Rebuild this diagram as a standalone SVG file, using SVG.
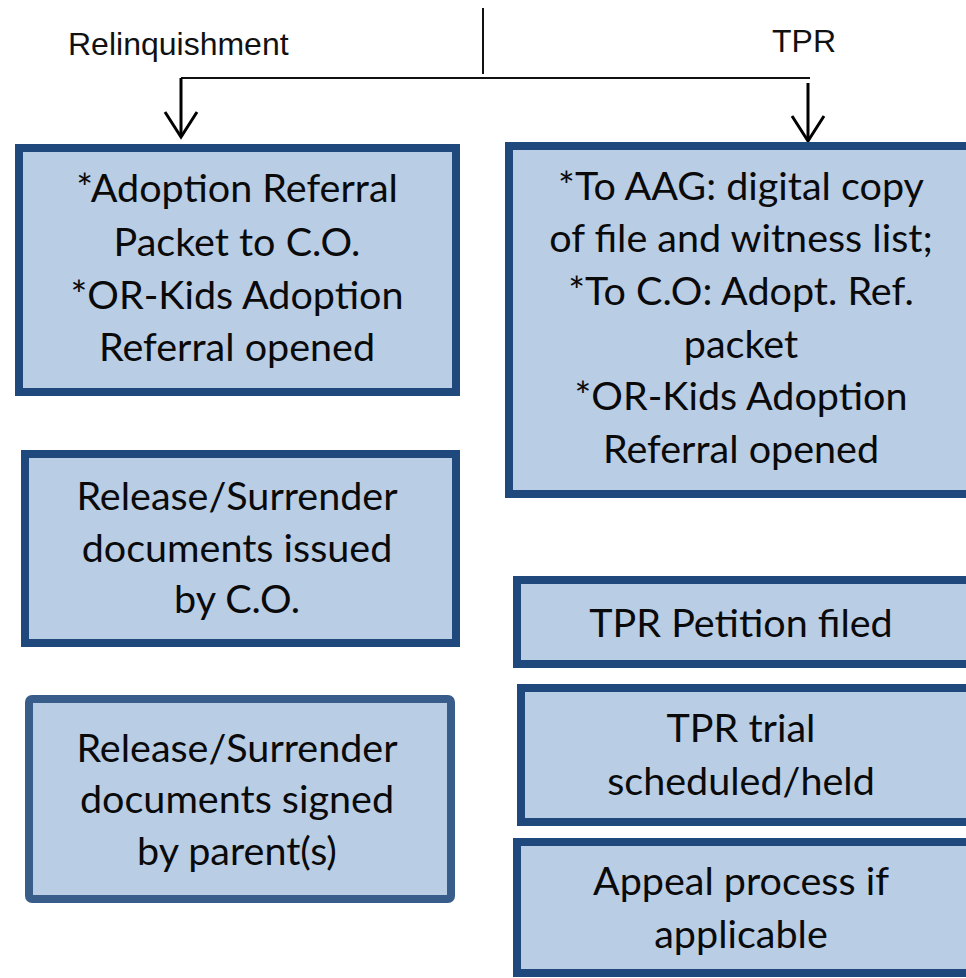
<svg xmlns="http://www.w3.org/2000/svg" width="966" height="978" viewBox="0 0 966 978">
<style>
.box{fill:#b9cde5;stroke:#1f497d;stroke-width:8}
.box2{fill:#b9cde5;stroke:#385d8a;stroke-width:8}
.t{font-family:Lato,"Open Sans","Liberation Sans",sans-serif;font-size:39.5px;fill:#0a0a0a;text-anchor:middle}
.h{font-family:"Liberation Sans",Arial,sans-serif;font-size:32px;fill:#111}
.ln{stroke:#111;stroke-width:2;fill:none}
.ar{stroke:#000;stroke-width:3;fill:none}
</style>
<rect width="966" height="978" fill="#fff"/>
<g id="labels">
<text class="h" x="68" y="55">Relinquishment</text>
<text class="h" x="772" y="52">TPR</text>
</g>
<g id="connectors">
<line class="ln" x1="483" y1="8" x2="483" y2="74"/>
<line class="ln" x1="181" y1="78" x2="810" y2="78"/>
<line class="ar" x1="181" y1="78" x2="181" y2="137"/>
<polyline class="ar" points="165,112 181,137 197,112"/>
<line class="ar" x1="808" y1="83" x2="808" y2="141"/>
<polyline class="ar" points="792,116 808,141 824,116"/>
</g>
<g id="n-rel1">
<rect class="box" x="19" y="148" width="437" height="244"/>
<text class="t" x="237" y="202">*Adoption Referral</text>
<text class="t" x="237" y="256">Packet to C.O.</text>
<text class="t" x="237" y="309">*OR-Kids Adoption</text>
<text class="t" x="237" y="361">Referral opened</text>
</g>
<g id="n-rel2">
<rect class="box" x="25" y="454" width="431" height="189"/>
<text class="t" x="237" y="510">Release/Surrender</text>
<text class="t" x="237" y="562">documents issued</text>
<text class="t" x="237" y="613">by C.O.</text>
</g>
<g id="n-rel3">
<rect class="box2" x="29" y="699" width="422" height="200" rx="3"/>
<text class="t" x="237" y="762">Release/Surrender</text>
<text class="t" x="237" y="813">documents signed</text>
<text class="t" x="237" y="865">by parent(s)</text>
</g>
<g id="n-tpr1">
<rect class="box" x="509" y="146" width="466" height="348"/>
<text class="t" x="741" y="200">*To AAG: digital copy</text>
<text class="t" x="741" y="252">of file and witness list;</text>
<text class="t" x="741" y="305">*To C.O: Adopt. Ref.</text>
<text class="t" x="741" y="358">packet</text>
<text class="t" x="741" y="410">*OR-Kids Adoption</text>
<text class="t" x="741" y="463">Referral opened</text>
</g>
<g id="n-tpr2">
<rect class="box" x="517" y="580" width="460" height="84"/>
<text class="t" x="741" y="637">TPR Petition filed</text>
</g>
<g id="n-tpr3">
<rect class="box" x="521" y="688" width="460" height="134"/>
<text class="t" x="741" y="742">TPR trial</text>
<text class="t" x="741" y="795">scheduled/held</text>
</g>
<g id="n-tpr4">
<rect class="box" x="517" y="842" width="460" height="131"/>
<text class="t" x="741" y="895">Appeal process if</text>
<text class="t" x="741" y="948">applicable</text>
</g>
</svg>
